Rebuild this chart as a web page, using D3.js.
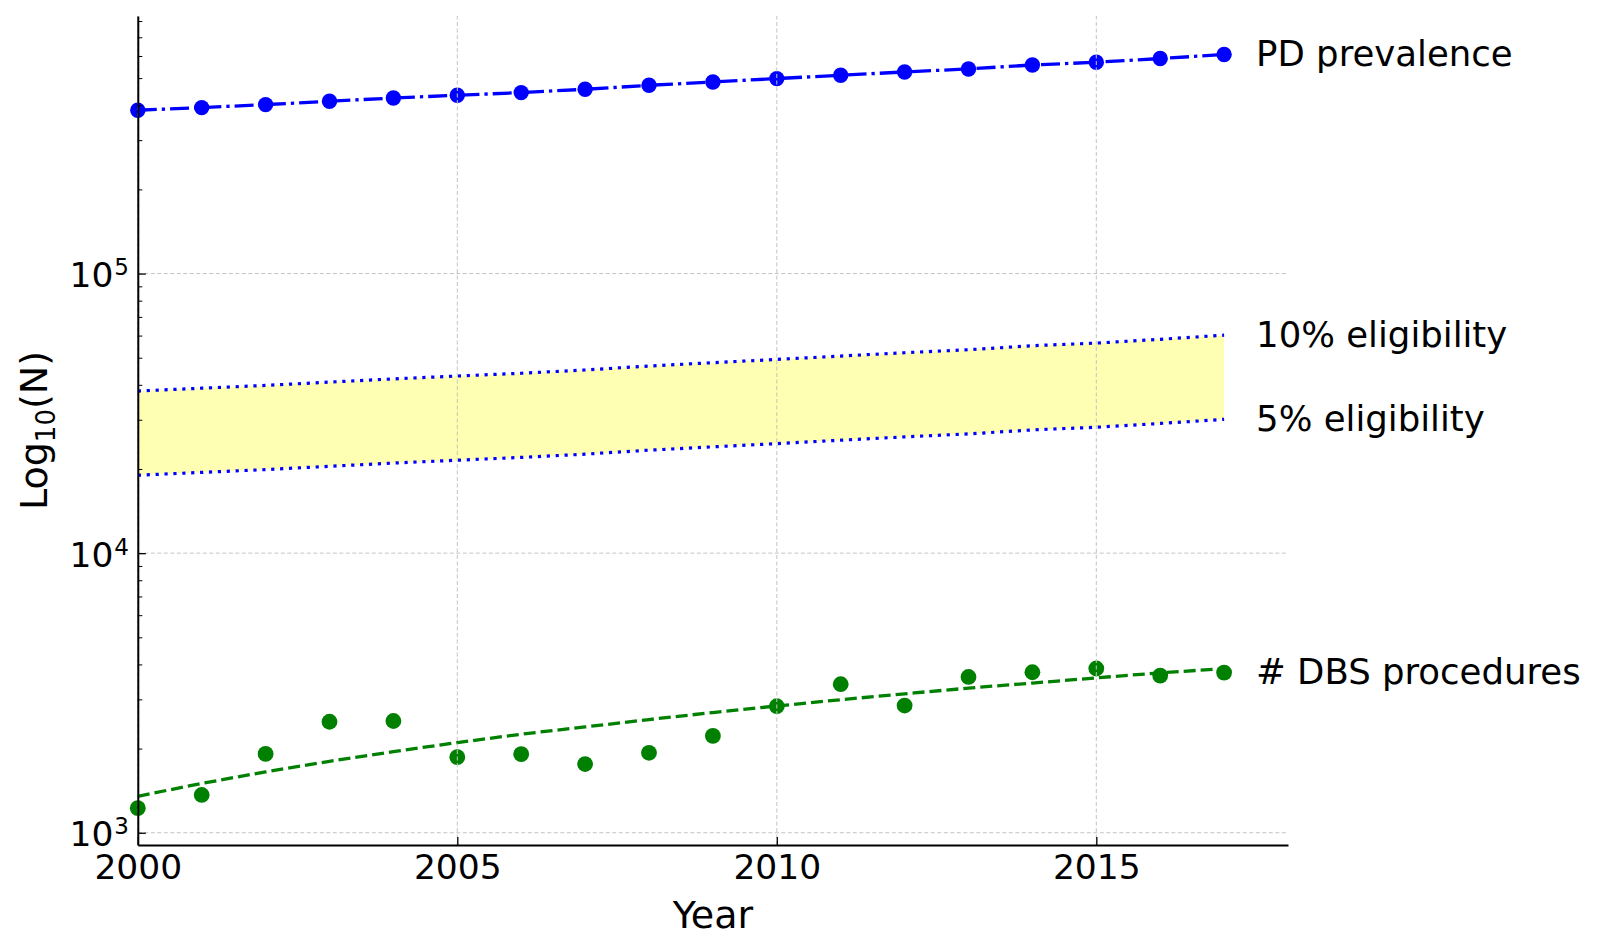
<!DOCTYPE html>
<html>
<head>
<meta charset="utf-8">
<script src="https://cdn.jsdelivr.net/npm/d3@7"></script>
<style>
  html, body { margin: 0; padding: 0; background: #ffffff; }
  svg { display: block; font-family: "DejaVu Sans", sans-serif; }
</style>
</head>
<body>
<svg id="chart" width="1600" height="952"></svg>
<script>
// ---------- data ----------
const years = [2000, 2001, 2002, 2003, 2004, 2005, 2006, 2007, 2008, 2009,
               2010, 2011, 2012, 2013, 2014, 2015, 2016, 2017];
const pdPrevalence = [383700, 392300, 402100, 413200, 424600, 434200, 443900, 456100, 471400,
                      484400, 498100, 512000, 526100, 539300, 557300, 569800, 587500, 607200];
const eligibility10 = [38000, 38900, 39800, 40900, 42000, 43000, 44000, 45200, 46700,
                       48000, 49300, 50700, 52100, 53400, 55200, 56400, 58200, 60200];
const eligibility5 = [19000, 19450, 19900, 20450, 21000, 21500, 22000, 22600, 23350,
                      24000, 24650, 25350, 26050, 26700, 27600, 28200, 29100, 30100];
const dbsProcedures = [1224, 1365, 1914, 2495, 2510, 1863, 1910, 1761, 1932,
                       2219, 2835, 3398, 2851, 3607, 3750, 3867, 3649, 3741];
const dbsTrend = [1350, 1500, 1650, 1800, 1950, 2100, 2250, 2390, 2540,
                  2690, 2840, 2990, 3140, 3290, 3430, 3580, 3730, 3860];
const xTicks = [2000, 2005, 2010, 2015];
const yTicks = [1e3, 1e4, 1e5];
const yTickExponents = ["3", "4", "5"];
const yMinorTicks = [2e3,3e3,4e3,5e3,6e3,7e3,8e3,9e3,2e4,3e4,4e4,5e4,6e4,7e4,8e4,9e4,2e5,3e5,4e5,5e5,6e5,7e5,8e5];
const seriesLabels = ["PD prevalence", "10% eligibility", "5% eligibility", "# DBS procedures"];
const xLabel = "Year";

(function draw() {
  const svg = d3.select("#chart");
  const L = 137.8, R = 1288, T = 16, B = 845;
  const x = d3.scaleLinear().domain([2000, 2018]).range([L, R]);
  const y = d3.scaleLog().domain([904, 834000]).range([B, T]);

  const BLUE = "#0000ff", GREEN = "#008000";
  const rows = years.map((yr, i) => ({
    yr, pd: pdPrevalence[i], e10: eligibility10[i], e5: eligibility5[i],
    dbs: dbsProcedures[i], trend: dbsTrend[i]
  }));

  // yellow band
  svg.append("path")
    .datum(rows)
    .attr("fill", "#ffffb3")
    .attr("d", d3.area().x(d => x(d.yr)).y0(d => y(d.e5)).y1(d => y(d.e10)));

  // eligibility dotted lines
  ["e10", "e5"].forEach(k => {
    svg.append("path")
      .datum(rows)
      .attr("fill", "none")
      .attr("stroke", BLUE)
      .attr("stroke-width", 3.2)
      .attr("stroke-dasharray", "3.2,5.7")
      .attr("d", d3.line().x(d => x(d.yr)).y(d => y(d[k])));
  });

  // PD prevalence dash-dot line
  svg.append("path")
    .datum(rows)
    .attr("fill", "none")
    .attr("stroke", BLUE)
    .attr("stroke-width", 3.3)
    .attr("stroke-dasharray", "19,5,3.3,5")
    .attr("d", d3.line().x(d => x(d.yr)).y(d => y(d.pd)));

  svg.append("g").selectAll("circle")
    .data(rows).join("circle")
    .attr("cx", d => x(d.yr)).attr("cy", d => y(d.pd))
    .attr("r", 7.7).attr("fill", BLUE);

  // DBS trend dashed line
  svg.append("path")
    .datum(rows)
    .attr("fill", "none")
    .attr("stroke", GREEN)
    .attr("stroke-width", 3.3)
    .attr("stroke-dasharray", "12,5")
    .attr("d", d3.line().curve(d3.curveMonotoneX).x(d => x(d.yr)).y(d => y(d.trend)));

  svg.append("g").selectAll("circle")
    .data(rows).join("circle")
    .attr("cx", d => x(d.yr)).attr("cy", d => y(d.dbs))
    .attr("r", 7.9).attr("fill", GREEN);

  // grid (drawn on top as in reference)
  const grid = svg.append("g")
    .attr("stroke", "#c4c4c4").attr("stroke-width", 1).attr("stroke-dasharray", "4,2.5");
  grid.selectAll("line.h").data(yTicks).join("line").attr("class", "h")
    .attr("x1", L).attr("x2", R)
    .attr("y1", d => y(d)).attr("y2", d => y(d));
  grid.selectAll("line.v").data(xTicks).join("line").attr("class", "v")
    .attr("x1", d => x(d)).attr("x2", d => x(d))
    .attr("y1", B).attr("y2", T);

  // x axis
  const xAxis = svg.append("g")
    .attr("transform", `translate(0,${B})`)
    .call(d3.axisBottom(x).tickValues(xTicks).tickFormat(d3.format("d"))
          .tickSizeInner(-8).tickSizeOuter(0).tickPadding(9.6));
  xAxis.select(".domain").attr("stroke", "#000").attr("stroke-width", 2);
  xAxis.selectAll(".tick line").attr("stroke", "#000").attr("stroke-width", 1.3);
  xAxis.selectAll(".tick text").attr("font-size", 34.5).attr("fill", "#000")
    .attr("font-family", "DejaVu Sans");

  // y axis
  const yAxis = svg.append("g")
    .attr("transform", `translate(${L},0)`)
    .call(d3.axisLeft(y).tickValues(yTicks).tickFormat("")
          .tickSizeInner(-8).tickSizeOuter(0));
  yAxis.select(".domain").attr("stroke", "#000").attr("stroke-width", 2);
  yAxis.selectAll(".tick line").attr("stroke", "#000").attr("stroke-width", 1.3);

  const yMinor = svg.append("g")
    .attr("transform", `translate(${L},0)`)
    .call(d3.axisLeft(y).tickValues(yMinorTicks).tickFormat("")
          .tickSizeInner(-4.5).tickSizeOuter(0));
  yMinor.select(".domain").remove();
  yMinor.selectAll(".tick line").attr("stroke", "#000").attr("stroke-width", 1);

  // y tick labels 10^n
  const yl = svg.append("g").selectAll("text")
    .data(yTicks).join("text")
    .attr("x", 129)
    .attr("y", d => y(d) + 13.5)
    .attr("text-anchor", "end")
    .attr("fill", "#000")
    .attr("font-size", 34.5);
  yl.append("tspan").text("10");
  yl.append("tspan").attr("font-size", 23).attr("dy", -12).attr("dx", 1)
    .text((d, i) => yTickExponents[i]);

  // axis labels
  svg.append("text")
    .attr("x", (L + R) / 2).attr("y", 928)
    .attr("text-anchor", "middle").attr("font-size", 38).attr("fill", "#000")
    .text(xLabel);

  const ylab = svg.append("text")
    .attr("transform", `translate(47,${(T + B) / 2}) rotate(-90)`)
    .attr("text-anchor", "middle").attr("font-size", 38).attr("fill", "#000");
  ylab.append("tspan").text("Log");
  ylab.append("tspan").attr("font-size", 26).attr("dy", 8).text("10");
  ylab.append("tspan").attr("dy", -8).text("(N)");

  // series labels at line ends
  const last = rows[rows.length - 1];
  const labelVals = [last.pd, last.e10, last.e5, last.dbs];
  svg.append("g").selectAll("text")
    .data(seriesLabels).join("text")
    .attr("x", x(2017) + 32)
    .attr("y", (d, i) => y(labelVals[i]))
    .attr("dy", "0.33em")
    .attr("font-size", 35.5)
    .attr("fill", "#000")
    .text(d => d);
})();
</script>
</body>
</html>
